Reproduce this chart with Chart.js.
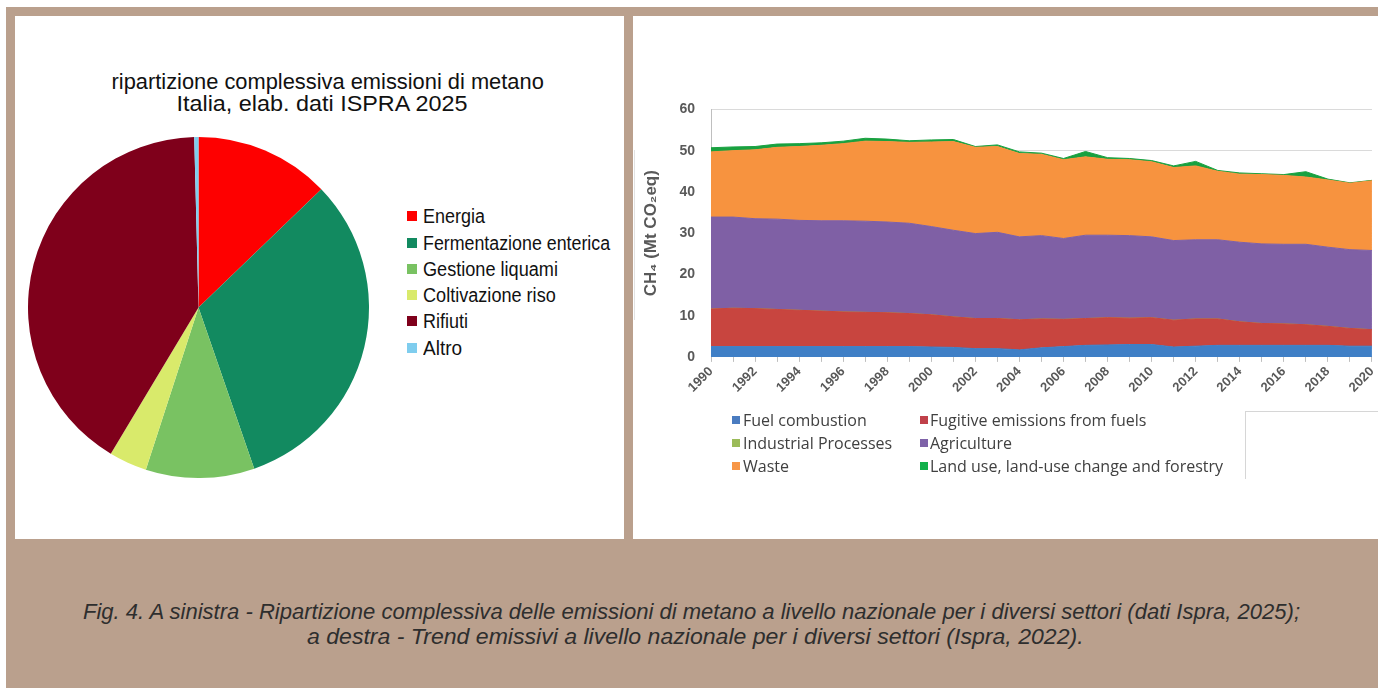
<!DOCTYPE html>
<html>
<head>
<meta charset="utf-8">
<script src="https://cdn.jsdelivr.net/npm/chart.js@4.4.1/dist/chart.umd.min.js"></script>
<style>
html,body{margin:0;padding:0;width:1378px;height:688px;overflow:hidden;background:#fff;}
#frame{position:absolute;left:6px;top:7px;width:1372px;height:681px;background:#baa08d;}
.panel{position:absolute;background:#fff;}
#lp{left:15px;top:16px;width:609px;height:523px;}
#rp{left:633px;top:16px;width:745px;height:523px;}
.txt{position:absolute;white-space:nowrap;line-height:1;}
.sq{position:absolute;}
#pieWrap{position:absolute;left:28px;top:137px;width:341px;height:341px;}
#areaWrap{position:absolute;left:633px;top:88px;width:745px;height:325px;}
#box{position:absolute;left:1245px;top:411px;width:133px;height:67px;border-left:1px solid #d6d6d6;border-top:1px solid #d6d6d6;background:#fff;}
#vline{position:absolute;left:634px;top:150px;width:1px;height:170px;background:#e2e2e2;}
</style>
</head>
<body>
<div id="frame"></div>
<div class="panel" id="lp"></div>
<div class="panel" id="rp"></div>
<div id="vline"></div>
<div id="box"></div>
<div id="pieWrap"><canvas id="pie"></canvas></div>
<div id="areaWrap"><canvas id="area"></canvas></div>
<div id="texts"></div>
<script>
// ---------- DATA ----------
const pieTitle = ['ripartizione complessiva emissioni di metano', 'Italia, elab. dati ISPRA 2025'];
const pieLabels = ['Energia', 'Fermentazione enterica', 'Gestione liquami', 'Coltivazione riso', 'Rifiuti', 'Altro'];
const pieValues = [12.8, 31.9, 10.3, 3.6, 41.0, 0.4];

const years = ['1990','1991','1992','1993','1994','1995','1996','1997','1998','1999','2000',
  '2001','2002','2003','2004','2005','2006','2007','2008','2009','2010',
  '2011','2012','2013','2014','2015','2016','2017','2018','2019','2020'];
const seriesLabels = ['Fuel combustion', 'Fugitive emissions from fuels', 'Industrial Processes', 'Agriculture', 'Waste', 'Land use, land-use change and forestry'];
const fuelCombustion = [2.5,2.5,2.5,2.5,2.5,2.5,2.5,2.5,2.5,2.5,2.4,2.3,2.0,2.0,1.7,2.2,2.5,2.8,2.9,3.0,3.0,2.4,2.6,2.8,2.8,2.8,2.8,2.8,2.8,2.6,2.6];
const fugitiveEmissions = [9.1,9.3,9.2,9.0,8.8,8.6,8.4,8.3,8.2,8.0,7.8,7.4,7.3,7.3,7.3,7.0,6.6,6.5,6.6,6.4,6.5,6.5,6.6,6.4,5.7,5.3,5.2,5.0,4.6,4.3,4.0];
const industrialProcesses = [0,0,0,0,0,0,0,0,0,0,0,0,0,0,0,0,0,0,0,0,0,0,0,0,0,0,0,0,0,0,0];
const agriculture = [22.3,22.1,21.8,21.9,21.8,21.9,22.1,22.1,22.0,21.9,21.4,21.0,20.6,20.9,20.1,20.2,19.6,20.2,20.0,20.0,19.6,19.3,19.2,19.2,19.3,19.3,19.3,19.5,19.2,19.1,19.2];
const waste = [15.8,16.1,16.7,17.4,17.9,18.3,18.7,19.4,19.5,19.6,20.5,21.5,20.9,20.8,20.2,19.7,19.1,19.0,18.4,18.4,18.2,17.7,17.9,16.6,16.5,16.8,16.7,16.3,16.3,16.1,16.9];
const lulucf = [1.0,0.9,0.8,0.8,0.7,0.6,0.6,0.7,0.6,0.4,0.5,0.5,0.2,0.4,0.4,0.3,0.3,1.3,0.4,0.3,0.3,0.4,1.1,0.2,0.3,0.2,0.2,1.3,0.2,0.1,0.1];
const yAxisTitle = 'CH\u2084 (Mt CO\u2082eq)';
const caption = ['Fig. 4. A sinistra - Ripartizione complessiva delle emissioni di metano a livello nazionale per i diversi settori (dati Ispra, 2025);',
  'a destra - Trend emissivi a livello nazionale per i diversi settori (Ispra, 2022).'];

// ---------- STYLES ----------
const pieColors = ['#fe0000', '#128a60', '#79c262', '#d9ea6b', '#7f001b', '#7fcdee'];
const areaColors = ['#3f7fc6', '#c8453f', '#9bbb59', '#7f60a5', '#f7933f', '#19a140'];
const legendSquareColors = ['#4a7cc0', '#c0414a', '#9bbb59', '#7e62a8', '#f79646', '#12b04a'];

// ---------- TEXT HELPERS ----------
const texts = document.getElementById('texts');
function addText(str, opts) {
  const el = document.createElement('div');
  el.className = 'txt';
  el.textContent = str;
  el.style.font = opts.font;
  el.style.color = opts.color || '#000';
  texts.appendChild(el);
  const w = el.offsetWidth, h = el.offsetHeight;
  const k = opts.width ? opts.width / w : 1;
  if (opts.align === 'left') {
    el.style.left = opts.x + 'px';
    el.style.transformOrigin = 'left center';
  } else {
    el.style.left = (opts.x - w / 2) + 'px';
    el.style.transformOrigin = 'center center';
  }
  el.style.top = (opts.y - h / 2) + 'px';
  el.style.transform = 'scaleX(' + k + ')';
  return el;
}
function addSquare(x, y, w, h, color) {
  const d = document.createElement('div');
  d.className = 'sq';
  d.style.left = x + 'px'; d.style.top = y + 'px';
  d.style.width = w + 'px'; d.style.height = h + 'px';
  d.style.background = color;
  texts.appendChild(d);
}

// Pie title
addText(pieTitle[0], {x: 327, y: 82, font: '22px "Liberation Sans", Arial, sans-serif', color: '#111', width: 432});
addText(pieTitle[1], {x: 322, y: 104, font: '22px "Liberation Sans", Arial, sans-serif', color: '#111', width: 291});

// Pie legend
const pieLegendY = [216, 243, 269, 295, 321, 348];
const pieLegendW = [62, 187, 135, 133, 45, 39];
pieLabels.forEach((lab, i) => {
  addSquare(407, pieLegendY[i] - 5, 10, 10, pieColors[i]);
  addText(lab, {x: 423, y: pieLegendY[i], align: 'left', font: '20px "Liberation Sans", Arial, sans-serif', color: '#111', width: pieLegendW[i]});
});

// Area legend (2 columns x 3 rows)
const legX = [[732, 743], [920, 930]];
const legY = [420, 443, 466];
seriesLabels.forEach((lab, i) => {
  const col = i % 2, row = Math.floor(i / 2);
  addSquare(legX[col][0], legY[row] - 4, 8, 8, legendSquareColors[i]);
  addText(lab, {x: legX[col][1], y: legY[row], align: 'left', font: '16px "Open Sans", "Liberation Sans", sans-serif', color: '#404040'});
});

// Caption
addText(caption[0], {x: 691, y: 612, font: 'italic 22px "Liberation Sans", Arial, sans-serif', color: '#2e2e2e', width: 1217});
addText(caption[1], {x: 695, y: 637, font: 'italic 22px "Liberation Sans", Arial, sans-serif', color: '#2e2e2e', width: 777});

// ---------- PIE ----------
new Chart(document.getElementById('pie'), {
  type: 'pie',
  data: {
    labels: pieLabels,
    datasets: [{data: pieValues, backgroundColor: pieColors, borderWidth: 0}]
  },
  options: {
    responsive: true, maintainAspectRatio: false, animation: false,
    layout: {padding: 0},
    plugins: {legend: {display: false}, tooltip: {enabled: false}, title: {display: false}}
  }
});

// ---------- AREA ----------
const seriesData = [fuelCombustion, fugitiveEmissions, industrialProcesses, agriculture, waste, lulucf];
const tickFont = {family: '"Liberation Sans", Arial, sans-serif', size: 13, weight: 'bold'};
const areaChart = new Chart(document.getElementById('area'), {
  type: 'line',
  data: {
    labels: years,
    datasets: seriesData.map((d, i) => ({
      label: seriesLabels[i], data: d,
      backgroundColor: areaColors[i], borderColor: areaColors[i], borderWidth: 1,
      pointRadius: 0, fill: i === 0 ? 'origin' : '-1', tension: 0
    }))
  },
  options: {
    responsive: true, maintainAspectRatio: false, animation: false,
    layout: {padding: {top: 21, left: 0, right: 0, bottom: 0}},
    plugins: {legend: {display: false}, tooltip: {enabled: false}},
    scales: {
      x: {
        offset: false,
        grid: {drawOnChartArea: false, drawTicks: true, tickLength: 5, color: '#bfbfbf'},
        border: {color: '#bfbfbf'},
        ticks: {autoSkip: false, minRotation: 45, maxRotation: 45, padding: 2, color: '#595959', font: tickFont,
          callback: (v, i) => (i % 2 === 0 ? years[i] : '')},
        afterFit: s => { s.height = 56; }
      },
      y: {
        stacked: true, min: 0, max: 60,
        grid: {color: '#dadada', drawTicks: false},
        border: {color: '#bfbfbf'},
        ticks: {stepSize: 10, padding: 16, color: '#595959', font: {family: '"Liberation Sans", Arial, sans-serif', size: 14, weight: 'bold'}},
        title: {display: true, text: yAxisTitle, color: '#595959', padding: {top: 8, bottom: 0},
          font: {family: '"Liberation Sans", Arial, sans-serif', size: 17, weight: 'bold'}},
        afterFit: s => { s.width = 78; }
      }
    }
  }
});

// fit the plot area onto the target rectangle
(function fitArea() {
  const wrap = document.getElementById('areaWrap');
  const target = {left: 711, right: 1372, top: 109, bottom: 356.5};
  for (let it = 0; it < 3; it++) {
    const a = areaChart.chartArea;
    const L = parseFloat(wrap.style.left || 633), T = parseFloat(wrap.style.top || 88);
    const W = wrap.offsetWidth, H = wrap.offsetHeight;
    const newL = L + (target.left - (L + a.left));
    const newW = W + (target.right - target.left) - (a.right - a.left);
    const newT = T + (target.top - (T + a.top));
    const newH = H + (target.bottom - target.top) - (a.bottom - a.top);
    wrap.style.left = newL + 'px'; wrap.style.width = newW + 'px';
    wrap.style.top = newT + 'px'; wrap.style.height = newH + 'px';
    areaChart.resize();
  }
})();
</script>
</body>
</html>
